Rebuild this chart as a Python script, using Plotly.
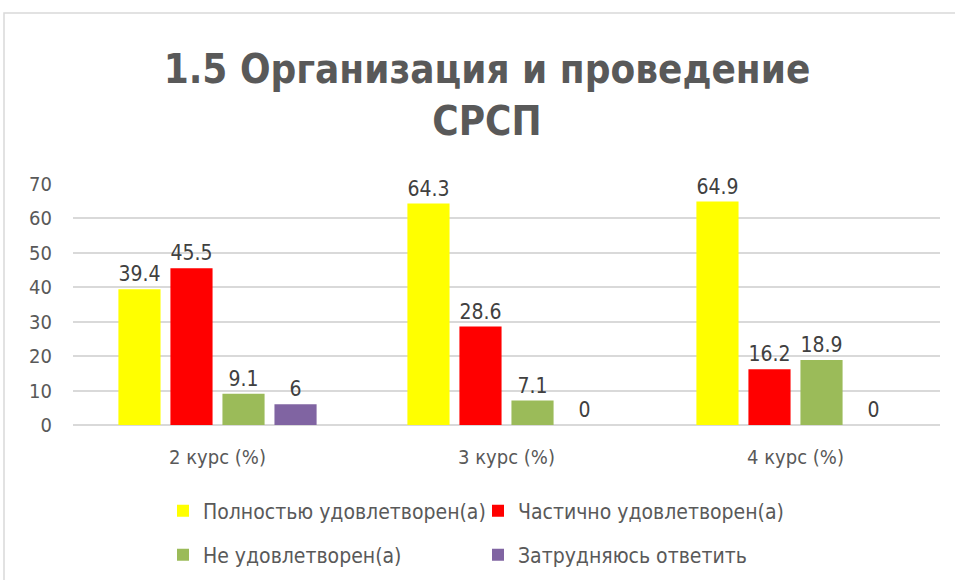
import plotly.graph_objects as go

categories = ["2 курс (%)", "3 курс (%)", "4 курс (%)"]
series_names = ["Полностью удовлетворен(а)", "Частично удовлетворен(а)",
                "Не удовлетворен(а)", "Затрудняюсь ответить"]
full = [39.4, 64.3, 64.9]
partial = [45.5, 28.6, 16.2]
not_sat = [9.1, 7.1, 18.9]
hard = [6, 0, 0]
colors = ["#FFFF00", "#FF0000", "#9BBB59", "#8064A2"]
title_text = "1.5 Организация и проведение<br>СРСП"

FONT = "DejaVu Sans Condensed, Liberation Sans Narrow, Open Sans, sans-serif"
GRAY = "#595959"

W, H = 955, 580
ML, MR, MT, MB = 73, 15, 184, 155
pw, ph = W - ML - MR, H - MT - MB

def py(px):
    return (MT + ph - px) / ph

def pxx(px):
    return (px - ML) / pw

legend_rows = ["legend", "legend", "legend2", "legend2"]

fig = go.Figure()
for name, vals, col, lg in zip(series_names, [full, partial, not_sat, hard], colors, legend_rows):
    fig.add_trace(go.Bar(
        x=categories, y=vals, name=name, marker=dict(color=col, line=dict(width=0)),
        text=[f"{v:g}" for v in vals], textposition="outside",
        textfont=dict(size=21, color="#404040", family=FONT),
        cliponaxis=False, legend=lg,
    ))

# chart border
fig.add_shape(type="rect", xref="paper", yref="paper",
              x0=pxx(4), x1=pxx(W + 5), y0=py(H + 5), y1=py(13),
              line=dict(color="#D9D9D9", width=1.5), fillcolor="rgba(0,0,0,0)", layer="below")

leg_common = dict(orientation="h", xanchor="left", yanchor="middle",
                  entrywidth=270, entrywidthmode="pixels", itemwidth=30,
                  font=dict(size=21, color=GRAY, family=FONT), bgcolor="rgba(0,0,0,0)")

fig.update_layout(
    width=W, height=H,
    margin=dict(l=ML, r=MR, t=MT, b=MB, autoexpand=False),
    paper_bgcolor="white", plot_bgcolor="white",
    title=dict(text=title_text, x=487 / W, xanchor="center", y=1 - 83 / H, yanchor="top",
               font=dict(size=40, color=GRAY, family=FONT, weight="bold")),
    barmode="group", bargap=0.28, bargroupgap=0.19,
    font=dict(family=FONT, color=GRAY, size=20),
    xaxis=dict(showgrid=False, showline=False, ticks="", tickfont=dict(size=20, color=GRAY),
               ticklabelstandoff=18),
    yaxis=dict(range=[0, 70], dtick=10, showgrid=True, gridcolor="#D9D9D9", gridwidth=1.5,
               zeroline=True, zerolinecolor="#D9D9D9", zerolinewidth=1.5,
               tickfont=dict(size=20, color=GRAY), ticklabelstandoff=20),
    legend=dict(x=pxx(163), y=py(511), **leg_common),
    legend2=dict(x=pxx(163), y=py(555), **leg_common),
    showlegend=True,
)
fig.write_html("out.html", config={"displayModeBar": False},
               post_script="document.body.style.margin='0px';")
